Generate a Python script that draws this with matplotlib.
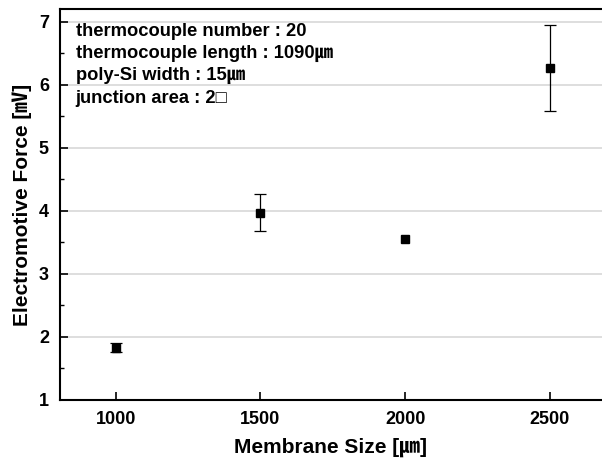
import numpy as np
import matplotlib
matplotlib.use("Agg")
import matplotlib.pyplot as plt
from matplotlib.ticker import MultipleLocator

plt.rcParams['font.family'] = ['Liberation Sans', 'Noto Sans CJK KR', 'DejaVu Sans']
plt.rcParams['font.weight'] = 'bold'

# data
membrane_size = [1000, 1500, 2000, 2500]
emf = [1.83, 3.97, 3.56, 6.27]
emf_err = [0.07, 0.29, np.nan, 0.68]   # no error bar drawn at 2000

notes = [
    "thermocouple number : 20",
    "thermocouple length : 1090\u339b",
    "poly-Si width : 15\u339b",
    "junction area : 2\u25a1",
]

fig = plt.figure(figsize=(6.02, 4.59), dpi=100)
ax = fig.add_axes([60 / 602, 59 / 459, 542 / 602, 391 / 459])

ax.errorbar(membrane_size, emf, yerr=emf_err, fmt="s", color="black",
            ms=6, elinewidth=0.9, capsize=4, capthick=0.9, zorder=3)

ax.set_xlim(808, 2680)
ax.set_ylim(1, 7.2)
ax.set_xticks(membrane_size)
ax.yaxis.set_major_locator(MultipleLocator(1))
ax.yaxis.set_minor_locator(MultipleLocator(0.5))
ax.grid(axis="y", which="major", color="#d8d8d8", linewidth=1.2)
ax.set_axisbelow(True)

ax.spines["right"].set_visible(False)
for s in ["left", "bottom", "top"]:
    ax.spines[s].set_linewidth(1.5)

ax.tick_params(axis="both", which="major", direction="in", length=6, width=1.2,
               labelsize=13, pad=8)
ax.tick_params(axis="y", which="minor", direction="in", length=3, width=1.0)
ax.tick_params(axis="x", which="minor", bottom=False)
for lab in ax.get_xticklabels() + ax.get_yticklabels():
    lab.set_fontweight("bold")

ax.set_xlabel("Membrane Size [\u339b]", fontsize=15, fontweight="bold", labelpad=7)
ax.set_ylabel("Electromotive Force [\u33b7]", fontsize=15, fontweight="bold", labelpad=5)

# annotation block, top-left inside the axes
for i, t in enumerate(notes):
    ax.text(0.029, 0.965 - i * 0.057, t, transform=ax.transAxes, fontsize=13.2,
            fontweight="bold", va="top", ha="left")

fig.savefig("out.png", dpi=100)
